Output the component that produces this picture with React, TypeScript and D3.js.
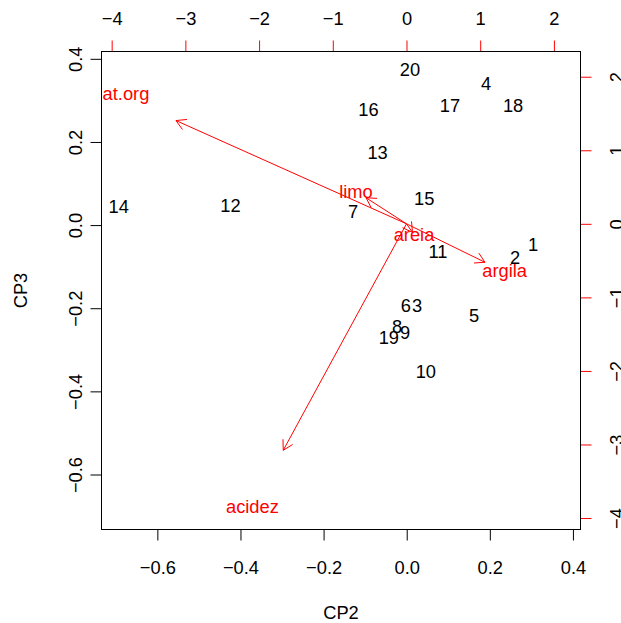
import * as d3 from "d3";
import {useEffect, useRef} from "react";

// scores (observations) on CP2 / CP3
const obsLabels = ["1", "2", "3", "4", "5", "6", "7", "8", "9", "10",
    "11", "12", "13", "14", "15", "16", "17", "18", "19", "20"];
const obsCp2 = [0.304, 0.261, 0.025, 0.191, 0.162, -0.002, -0.129, -0.023, -0.004, 0.046,
    0.075, -0.424, -0.070, -0.693, 0.042, -0.092, 0.104, 0.256, -0.043, 0.008];
const obsCp3 = [-0.047, -0.078, -0.193, 0.341, -0.218, -0.193, 0.033, -0.244, -0.259, -0.352,
    -0.064, 0.047, 0.175, 0.045, 0.064, 0.278, 0.288, 0.288, -0.270, 0.374];

// loadings (variables)
const varNames = ["argila", "areia", "limo", "mat.org", "acidez"];
const varCp2 = [1.331, 0.102, -0.685, -3.909, -2.090];
const varCp3 = [-0.653, -0.145, 0.442, 1.755, -3.848];

const bottomTicks = [-0.6, -0.4, -0.2, 0.0, 0.2, 0.4];
const leftTicks = [-0.6, -0.4, -0.2, 0.0, 0.2, 0.4];
const topTicks = [-4, -3, -2, -1, 0, 1, 2];
const rightTicks = [-4, -3, -2, -1, 0, 1, 2];

const useD3 = (renderChartFn, dependencies) => {
    const ref = useRef();
    useEffect(() => {
        renderChartFn(d3.select(ref.current));
        return () => {};
    }, dependencies);
    return ref;
}

const W = 621, H = 623;
const left = 101.5, right = 580.5, top = 51.5, bottom = 529.5;
const font = "'Liberation Sans', Arial, Helvetica, sans-serif";
const fs = 18.3;

const Biplot = () => {
    const ref = useD3((svg) => {
        svg.selectAll("*").remove();

        const x = d3.scaleLinear().domain([-0.7344, 0.4182]).range([left, right]);
        const y = d3.scaleLinear().domain([-0.7323, 0.4176]).range([bottom, top]);
        const x2 = d3.scaleLinear().domain([-4.138, 2.361]).range([left, right]);
        const y2 = d3.scaleLinear().domain([-4.156, 2.343]).range([bottom, top]);

        svg.append("defs").append("clipPath").attr("id", "plotclip")
            .append("rect")
            .attr("x", left).attr("y", top)
            .attr("width", right - left).attr("height", bottom - top);

        const fmt1 = (d) => d3.format(".1f")(d);
        const fmt0 = (d) => d3.format("d")(d);

        // bottom axis
        const gb = svg.append("g").attr("transform", `translate(0,${bottom})`)
            .call(d3.axisBottom(x).tickValues(bottomTicks).tickSize(11).tickFormat(fmt1));
        gb.selectAll("text").attr("y", 38).attr("dy", "0.36em");

        // left axis, labels parallel to the axis
        const gl = svg.append("g").attr("transform", `translate(${left},0)`)
            .call(d3.axisLeft(y).tickValues(leftTicks).tickSize(11).tickFormat(fmt1));
        gl.selectAll("text")
            .attr("x", 0).attr("y", 0).attr("dy", "0.36em")
            .attr("text-anchor", "middle")
            .attr("transform", "translate(-26,0) rotate(-90)");

        // top axis (loadings scale)
        const gt = svg.append("g").attr("transform", `translate(0,${top})`)
            .call(d3.axisTop(x2).tickValues(topTicks).tickSize(11).tickFormat(fmt0));
        gt.selectAll("text").attr("y", -33.3).attr("dy", "0.36em");
        gt.selectAll(".tick line").attr("stroke", "red");

        // right axis
        const gr = svg.append("g").attr("transform", `translate(${right},0)`)
            .call(d3.axisRight(y2).tickValues(rightTicks).tickSize(11).tickFormat(fmt0));
        gr.selectAll("text")
            .attr("x", 0).attr("y", 0).attr("dy", "0.36em")
            .attr("text-anchor", "middle")
            .attr("transform", "translate(35.5,0) rotate(-90)");
        gr.selectAll(".tick line").attr("stroke", "red");

        svg.selectAll(".domain").remove();
        svg.selectAll(".tick text")
            .attr("fill", "black")
            .style("font-family", font)
            .style("font-size", fs + "px");

        // observation labels
        const plot = svg.append("g").attr("clip-path", "url(#plotclip)");
        plot.selectAll("text.obs")
            .data(obsLabels)
            .enter()
            .append("text")
            .attr("class", "obs")
            .attr("x", (d, i) => x(obsCp2[i]))
            .attr("y", (d, i) => y(obsCp3[i]))
            .attr("dy", "0.36em")
            .attr("text-anchor", "middle")
            .style("font-family", font)
            .style("font-size", fs + "px")
            .attr("fill", "black")
            .text(d => d);

        // variable arrows drawn to 0.8 of the loading
        const headLen = 11;
        const ang = Math.PI / 6;
        const arrowPath = (i) => {
            const x0 = x2(0), y0 = y2(0);
            const x1 = x2(varCp2[i] * 0.8), y1 = y2(varCp3[i] * 0.8);
            const th = Math.atan2(y1 - y0, x1 - x0);
            const a1 = th + Math.PI - ang, a2 = th + Math.PI + ang;
            return `M${x0},${y0}L${x1},${y1}` +
                `M${x1 + headLen * Math.cos(a1)},${y1 + headLen * Math.sin(a1)}L${x1},${y1}` +
                `L${x1 + headLen * Math.cos(a2)},${y1 + headLen * Math.sin(a2)}`;
        };
        plot.selectAll("path.arrow")
            .data(varNames)
            .enter()
            .append("path")
            .attr("class", "arrow")
            .attr("d", (d, i) => arrowPath(i))
            .attr("fill", "none")
            .attr("stroke", "red")
            .attr("stroke-width", 1);

        plot.selectAll("text.var")
            .data(varNames)
            .enter()
            .append("text")
            .attr("class", "var")
            .attr("x", (d, i) => x2(varCp2[i]))
            .attr("y", (d, i) => y2(varCp3[i]))
            .attr("dy", d => /[gjpqy]/.test(d) ? "0.26em" : "0.36em")
            .attr("text-anchor", "middle")
            .style("font-family", font)
            .style("font-size", fs + "px")
            .attr("fill", "red")
            .text(d => d);

        // box
        svg.append("rect")
            .attr("x", left).attr("y", top)
            .attr("width", right - left).attr("height", bottom - top)
            .attr("fill", "none").attr("stroke", "black").attr("stroke-width", 1);

        // axis titles
        svg.append("text")
            .attr("x", (left + right) / 2).attr("y", 612.5).attr("dy", "0.36em")
            .attr("text-anchor", "middle")
            .style("font-family", font).style("font-size", fs + "px")
            .text("CP2");
        svg.append("text")
            .attr("transform", `translate(20,${(top + bottom) / 2}) rotate(-90)`)
            .attr("dy", "0.36em")
            .attr("text-anchor", "middle")
            .style("font-family", font).style("font-size", fs + "px")
            .text("CP3");
    }, []);

    return (
        <svg ref={ref} width={W} height={H}
             style={{display: "block", background: "white"}}>
        </svg>
    );
}

const App = () => (
    <div style={{position: "absolute", left: 0, top: 0}}>
        <Biplot/>
    </div>
);

export default App;
